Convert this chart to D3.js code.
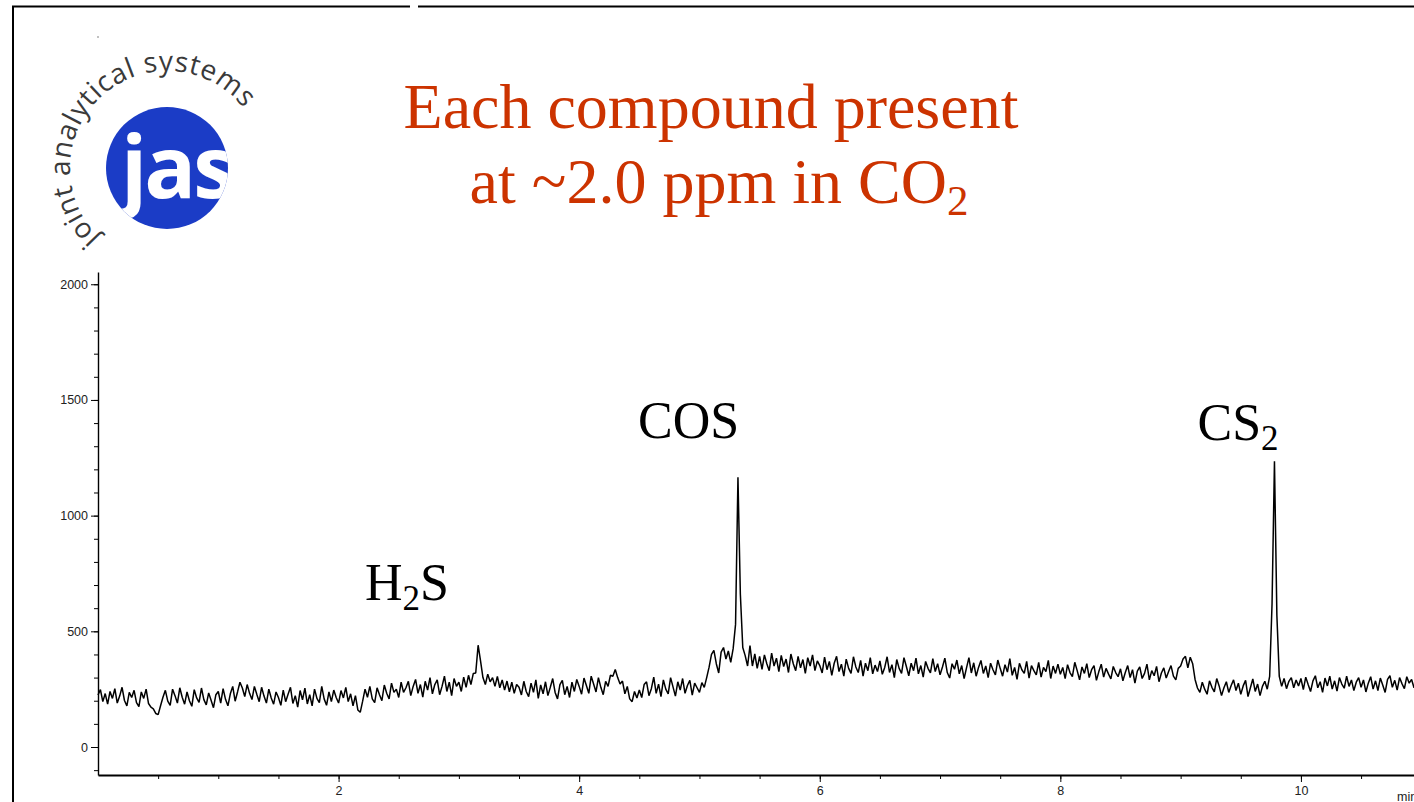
<!DOCTYPE html>
<html>
<head>
<meta charset="utf-8">
<script src="https://cdn.jsdelivr.net/npm/d3@7"></script>
<style>
  html, body { margin: 0; padding: 0; background: #ffffff; }
  svg { display: block; }
</style>
</head>
<body>
<script>
// ---------- DATA ----------
const titleLine1 = "Each compound present";
const titleLine2 = "at ~2.0 ppm in CO";
const titleSub = "2";
const peakLabels = [
  { main: "H", sub: "2", tail: "S", t: 2.22, v: 635 },
  { main: "COS", sub: "", tail: "", t: 4.49, v: 1335 },
  { main: "CS", sub: "2", tail: "", t: 9.14, v: 1327 }
];
const yMajorTicks = [0, 500, 1000, 1500, 2000];
const yMinorTicks = [-100, 0, 100, 200, 300, 400, 500, 600, 700, 800, 900, 1000, 1100, 1200, 1300, 1400, 1500, 1600, 1700, 1800, 1900, 2000];
const xMajorTicks = [2, 4, 6, 8, 10];
const xMinorTicks = [0.5, 1, 1.5, 2, 2.5, 3, 3.5, 4, 4.5, 5, 5.5, 6, 6.5, 7, 7.5, 8, 8.5, 9, 9.5, 10, 10.5];
const xDomain = [0, 10.94];
const yDomain = [-121, 2053];
const sampleStart = 0;      // min
const sampleStep = 0.02;    // min
// detector signal, one value per 0.02 min
const signal = [
  225, 248, 196, 231, 185, 240, 210, 252, 190, 220, 258, 201, 178, 236, 214, 245, 192, 175, 238, 210, 250, 188, 172, 165, 145,
  140, 178, 215, 245, 198, 180, 250, 222, 190, 256, 215, 185, 238, 200, 176, 248, 212, 193, 255, 205, 182, 234, 202, 170, 226,
  240, 190, 252, 206, 178, 230, 262, 198, 238, 280, 255, 218, 270, 232, 205, 262, 228, 196, 258, 220, 190, 250, 212, 185, 238,
  214, 180, 246, 196, 228, 258, 188, 222, 172, 244, 204, 254, 186, 226, 178, 250, 210, 192, 262, 208, 180, 238, 196, 246, 214,
  190, 244, 212, 258, 196, 230, 178, 222, 160, 150, 198, 250, 215, 262, 208, 192, 256, 226, 200, 268, 232, 208, 276, 236, 250,
  214, 280, 236, 256, 284, 222, 262, 292, 232, 270, 216, 284, 246, 300, 230, 270, 290, 226, 262, 306, 240, 280, 222, 296, 262,
  280, 240, 302, 258, 310, 270, 318, 320, 440, 372, 300, 270, 315, 282, 300, 262, 305, 256, 290, 246, 285, 238, 280, 232, 270,
  258, 225, 284, 240, 218, 276, 236, 290, 210, 268, 230, 282, 222, 258, 296, 236, 208, 270, 288, 226, 262, 214, 280, 240, 292,
  262, 228, 298, 266, 232, 306, 272, 238, 300, 258, 226, 284, 262, 310, 306, 335, 300, 272, 285, 230, 262, 208, 196, 240, 212,
  246, 214, 270, 282, 222, 252, 302, 232, 272, 218, 290, 250, 230, 300, 260, 220, 282, 246, 296, 232, 266, 288, 224, 276, 256,
  236, 278, 258, 300, 345, 400, 418, 360, 320, 410, 430, 380, 415, 366, 425, 530, 1166, 660, 430, 395, 350, 438, 350, 402, 340,
  392, 336, 398, 360, 330, 406, 350, 384, 326, 396, 348, 380, 322, 402, 360, 330, 392, 342, 378, 318, 386, 350, 398, 330, 372,
  352, 320, 388, 334, 370, 310, 362, 392, 326, 358, 306, 380, 340, 318, 390, 346, 322, 374, 306, 362, 330, 386, 316, 354, 326,
  372, 314, 344, 390, 322, 356, 300, 378, 340, 318, 386, 348, 308, 362, 330, 384, 316, 352, 302, 370, 340, 320, 382, 326, 360,
  312, 346, 384, 322, 298, 360, 336, 376, 316, 352, 296, 342, 386, 320, 364, 306, 344, 374, 318, 350, 300, 362, 334, 312, 376,
  340, 306, 356, 324, 382, 310, 344, 292, 362, 334, 318, 370, 298, 352, 330, 312, 366, 302, 344, 326, 374, 296, 350, 318, 358,
  314, 344, 296, 356, 322, 304, 366, 330, 290, 346, 318, 360, 300, 334, 352, 288, 326, 358, 302, 340, 316, 294, 348, 322, 304,
  338, 286, 322, 352, 300, 334, 276, 328, 346, 296, 318, 358, 290, 330, 308, 348, 282, 320, 342, 298, 326, 352, 306, 290, 340,
  350, 380, 392, 342, 388, 360, 292, 255, 236, 280, 250, 228, 286, 258, 238, 296, 264, 222, 256, 282, 236, 266, 290, 244, 276,
  228, 264, 288, 218, 256, 294, 240, 272, 222, 262, 284, 250, 305, 620, 1235, 570, 305, 262, 296, 252, 284, 300, 256, 290, 264,
  296, 248, 302, 270, 240, 286, 308, 256, 282, 236, 298, 264, 306, 250, 286, 242, 300, 272, 254, 306, 262, 290, 244, 280, 300,
  258, 290, 238, 276, 304, 250, 286, 244, 298, 268, 236, 292, 308, 258, 288, 246, 300, 274, 252, 304, 276, 292, 256, 296, 282
];
const logoWord = "jas";
const logoArcText = "joint analytical systems";

// ---------- DRAW ----------
const W = 1414, H = 802;
const svg = d3.select("body").append("svg").attr("width", W).attr("height", H);

// slide frame lines
svg.append("line").attr("x1", 13).attr("y1", 6).attr("x2", 13).attr("y2", H)
  .attr("stroke", "#000").attr("stroke-width", 2);
svg.append("line").attr("x1", 12).attr("y1", 6.5).attr("x2", 410).attr("y2", 6.5)
  .attr("stroke", "#000").attr("stroke-width", 2);
svg.append("line").attr("x1", 418).attr("y1", 6.5).attr("x2", W).attr("y2", 6.5)
  .attr("stroke", "#000").attr("stroke-width", 2);

// logo
const logo = svg.append("g");
const lcx = 167, lcy = 168, lr = 61;
const defs = svg.append("defs");
defs.append("clipPath").attr("id", "logoClip").append("circle")
  .attr("cx", lcx).attr("cy", lcy).attr("r", lr);
logo.append("circle").attr("cx", lcx).attr("cy", lcy).attr("r", lr).attr("fill", "#1b3cc6");
logo.append("text").attr("clip-path", "url(#logoClip)")
  .attr("x", 121).attr("y", 198)
  .attr("font-family", "Open Sans, DejaVu Sans, sans-serif").attr("font-weight", 700)
  .attr("font-size", 86).attr("letter-spacing", -3).attr("fill", "#fff").text(logoWord);
const ar = 97;
const a0 = -136 * Math.PI / 180, a1 = 66 * Math.PI / 180;
const p0 = [lcx + ar * Math.sin(a0), lcy - ar * Math.cos(a0)];
const p1 = [lcx + ar * Math.sin(a1), lcy - ar * Math.cos(a1)];
defs.append("path").attr("id", "logoArc")
  .attr("d", `M${p0[0]},${p0[1]} A${ar},${ar} 0 1 1 ${p1[0]},${p1[1]}`);
logo.append("text")
  .attr("font-family", "Open Sans, DejaVu Sans, sans-serif").attr("font-size", 28)
  .attr("fill", "#3a3a3a")
  .append("textPath").attr("href", "#logoArc").attr("startOffset", 0)
  .attr("textLength", 318).attr("lengthAdjust", "spacing")
  .text(logoArcText);
logo.append("circle").attr("cx", 98).attr("cy", 37).attr("r", 0.7).attr("fill", "#555");

// title
const title = svg.append("g").attr("font-family", "Liberation Serif, Times New Roman, serif")
  .attr("fill", "#cc3300").attr("text-anchor", "middle");
title.append("text").attr("x", 711).attr("y", 128).attr("font-size", 64).text(titleLine1);
const t2 = title.append("text").attr("x", 719).attr("y", 203).attr("font-size", 64);
t2.append("tspan").text(titleLine2);
t2.append("tspan").attr("font-size", 43).attr("dy", 12).text(titleSub);

// scales
const x = d3.scaleLinear().domain(xDomain).range([98, 1414]);
const y = d3.scaleLinear().domain(yDomain).range([775, 272]);

// y axis
const yMinor = svg.append("g").attr("transform", "translate(98,0)")
  .call(d3.axisLeft(y).tickValues(yMinorTicks).tickSize(4).tickSizeOuter(0).tickFormat(""));
yMinor.select(".domain").attr("stroke-width", 1.4);
const yMajor = svg.append("g").attr("transform", "translate(98,0)")
  .call(d3.axisLeft(y).tickValues(yMajorTicks).tickSize(7).tickFormat(d3.format("d")));
yMajor.select(".domain").remove();
yMajor.selectAll("text").attr("font-family", "Liberation Sans, Arial, sans-serif")
  .attr("font-size", 12.5).attr("fill", "#222").attr("x", -10);

// x axis
const xMinor = svg.append("g").attr("transform", "translate(0,775)")
  .call(d3.axisBottom(x).tickValues(xMinorTicks).tickSize(4).tickSizeOuter(0).tickFormat(""));
xMinor.select(".domain").attr("stroke-width", 2);
const xMajor = svg.append("g").attr("transform", "translate(0,775)")
  .call(d3.axisBottom(x).tickValues(xMajorTicks).tickSize(7).tickFormat(d3.format("d")));
xMajor.select(".domain").remove();
xMajor.selectAll("text").attr("font-family", "Liberation Sans, Arial, sans-serif")
  .attr("font-size", 12.5).attr("fill", "#222").attr("y", 11);
svg.append("text").attr("x", 1397).attr("y", 801)
  .attr("font-family", "Liberation Sans, Arial, sans-serif").attr("font-size", 12.5)
  .attr("fill", "#222").text("min");

// trace
const pts = signal.map((v, i) => [sampleStart + i * sampleStep, v]);
svg.append("path").datum(pts)
  .attr("fill", "none").attr("stroke", "#000").attr("stroke-width", 1.5)
  .attr("stroke-linejoin", "bevel")
  .attr("d", d3.line().x(d => x(d[0])).y(d => y(d[1])));

// peak labels
const lab = svg.append("g").attr("font-family", "Liberation Serif, Times New Roman, serif")
  .attr("fill", "#000").attr("font-size", 52);
peakLabels.forEach(p => {
  const t = lab.append("text").attr("x", x(p.t)).attr("y", y(p.v));
  t.append("tspan").text(p.main);
  if (p.sub) t.append("tspan").attr("font-size", 35).attr("dy", 10).text(p.sub);
  if (p.tail) t.append("tspan").attr("dy", -10).text(p.tail);
});
</script>
</body>
</html>
